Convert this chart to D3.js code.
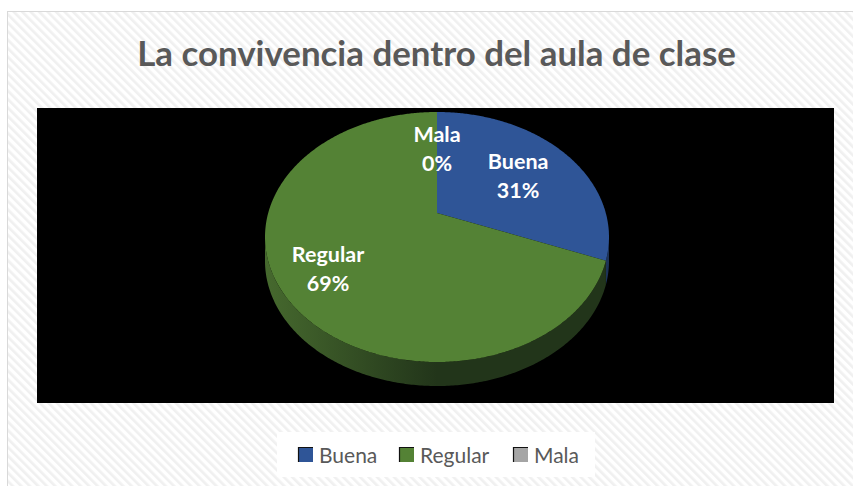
<!DOCTYPE html>
<html><head><meta charset="utf-8">
<script src="https://cdn.jsdelivr.net/npm/d3@7"></script>
<style>html,body{margin:0;padding:0;background:#fff;}svg{display:block;}</style>
</head><body>
<svg id="chart" width="853" height="486"></svg>
<script>
const title = "La convivencia dentro del aula de clase";
const categories = ["Buena", "Regular", "Mala"];
const values = [31, 69, 0];
const percentLabels = ["31%", "69%", "0%"];
const colors = ["#2f5597", "#548235", "#a5a5a5"];
const sideColors = [["#2b4a80", "#1d3358"], ["#46692e", "#22351a"], ["#7a7a7a", "#555"]];
const labelRadius = [0.62, 0.72, 0.62];

const W = 853, H = 486;
const svg = d3.select("#chart");
const defs = svg.append("defs");
const pat = defs.append("pattern").attr("id", "hatch").attr("patternUnits", "userSpaceOnUse")
  .attr("width", 6).attr("height", 6).attr("patternTransform", "rotate(-45)");
pat.append("rect").attr("width", 6).attr("height", 6).attr("fill", "#ffffff");
pat.append("rect").attr("width", 2.6).attr("height", 6).attr("fill", "#f0f0f0");

svg.append("rect").attr("width", W).attr("height", H).attr("fill", "#fff");
svg.append("rect").attr("x", 7.5).attr("y", 11.5).attr("width", W + 10).attr("height", H + 10)
  .attr("fill", "url(#hatch)").attr("stroke", "#d9d9d9").attr("stroke-width", 1);

const fitText = (sel, target) => {
  const w = sel.node().getComputedTextLength();
  const fs = parseFloat(sel.attr("font-size"));
  sel.attr("font-size", fs * target / w);
};
const t = svg.append("text").attr("x", 436.5).attr("y", 66).attr("text-anchor", "middle")
  .attr("font-family", "Lato, 'Open Sans', sans-serif").attr("font-weight", "bold")
  .attr("font-size", 31).attr("fill", "#595959").text(title);
fitText(t, 599);

svg.append("rect").attr("x", 37).attr("y", 108).attr("width", 797).attr("height", 295).attr("fill", "#000");

const cx = 437, cy = 213, k = 0.192, b = 120.4, a = 168.8, depth = 24;
const proj = (ang, r, dy = 0) => {
  const u = r * Math.sin(ang), v = r * Math.cos(ang);
  const den = 1 + k * v;
  return [cx + a * u / den, cy - b * v / den + dy];
};
const pie = d3.pie().sort(null).value(d => d)(values);
const line = d3.line();
const arcPts = (s, e, dy) => {
  const n = Math.max(2, Math.ceil(Math.abs(e - s) / 0.01));
  return d3.range(n + 1).map(i => proj(s + (e - s) * i / n, 1, dy));
};

const visS = Math.PI / 2 + Math.asin(k), visE = 3 * Math.PI / 2 - Math.asin(k);
pie.forEach((p, i) => {
  const s = Math.max(p.startAngle, visS), e = Math.min(p.endAngle, visE);
  if (e <= s) return;
  const gid = "side" + i;
  const g = defs.append("linearGradient").attr("id", gid).attr("gradientUnits", "userSpaceOnUse")
    .attr("x1", cx - 172).attr("x2", cx + 172).attr("y1", 0).attr("y2", 0);
  g.append("stop").attr("offset", 0).attr("stop-color", sideColors[i][0]);
  g.append("stop").attr("offset", 0.5).attr("stop-color", sideColors[i][1]);
  g.append("stop").attr("offset", 1).attr("stop-color", sideColors[i][1]);
  const pts = arcPts(s, e, 0).concat(arcPts(e, s, depth));
  svg.append("path").attr("d", line(pts) + "Z").attr("fill", `url(#${gid})`);
});

pie.forEach((p, i) => {
  if (p.endAngle - p.startAngle <= 0) return;
  const pts = [proj(0, 0)].concat(arcPts(p.startAngle, p.endAngle, 0));
  svg.append("path").attr("d", line(pts) + "Z").attr("fill", colors[i]);
});

pie.forEach((p, i) => {
  const mid = (p.startAngle + p.endAngle) / 2;
  const [x, y] = proj(mid, labelRadius[i]);
  const tx = svg.append("text").attr("x", x).attr("y", y).attr("text-anchor", "middle")
    .attr("font-family", "Lato, 'Open Sans', sans-serif").attr("font-weight", "bold")
    .attr("font-size", 21.5).attr("fill", "#fff");
  tx.append("tspan").attr("x", x).attr("dy", "-0.2em").text(categories[i]);
  tx.append("tspan").attr("x", x).attr("dy", "1.35em").text(percentLabels[i]);
});

svg.append("rect").attr("x", 277).attr("y", 432).attr("width", 318).attr("height", 45).attr("fill", "#fff");
const legX = [298, 399, 513];
categories.forEach((c, i) => {
  const x = legX[i], y = 447;
  svg.append("rect").attr("x", x).attr("y", y).attr("width", 15).attr("height", 15).attr("fill", colors[i]);
  svg.append("path").attr("d", `M${x + 0.5},${y + 15}V${y + 0.5}H${x + 15}`).attr("fill", "none")
    .attr("stroke", "#111").attr("stroke-width", 1.2);
  svg.append("text").attr("x", x + 21).attr("y", y + 15.5).attr("font-family", "Lato, 'Open Sans', sans-serif")
    .attr("font-size", 21).attr("fill", "#595959").text(c);
});
</script>
</body></html>
